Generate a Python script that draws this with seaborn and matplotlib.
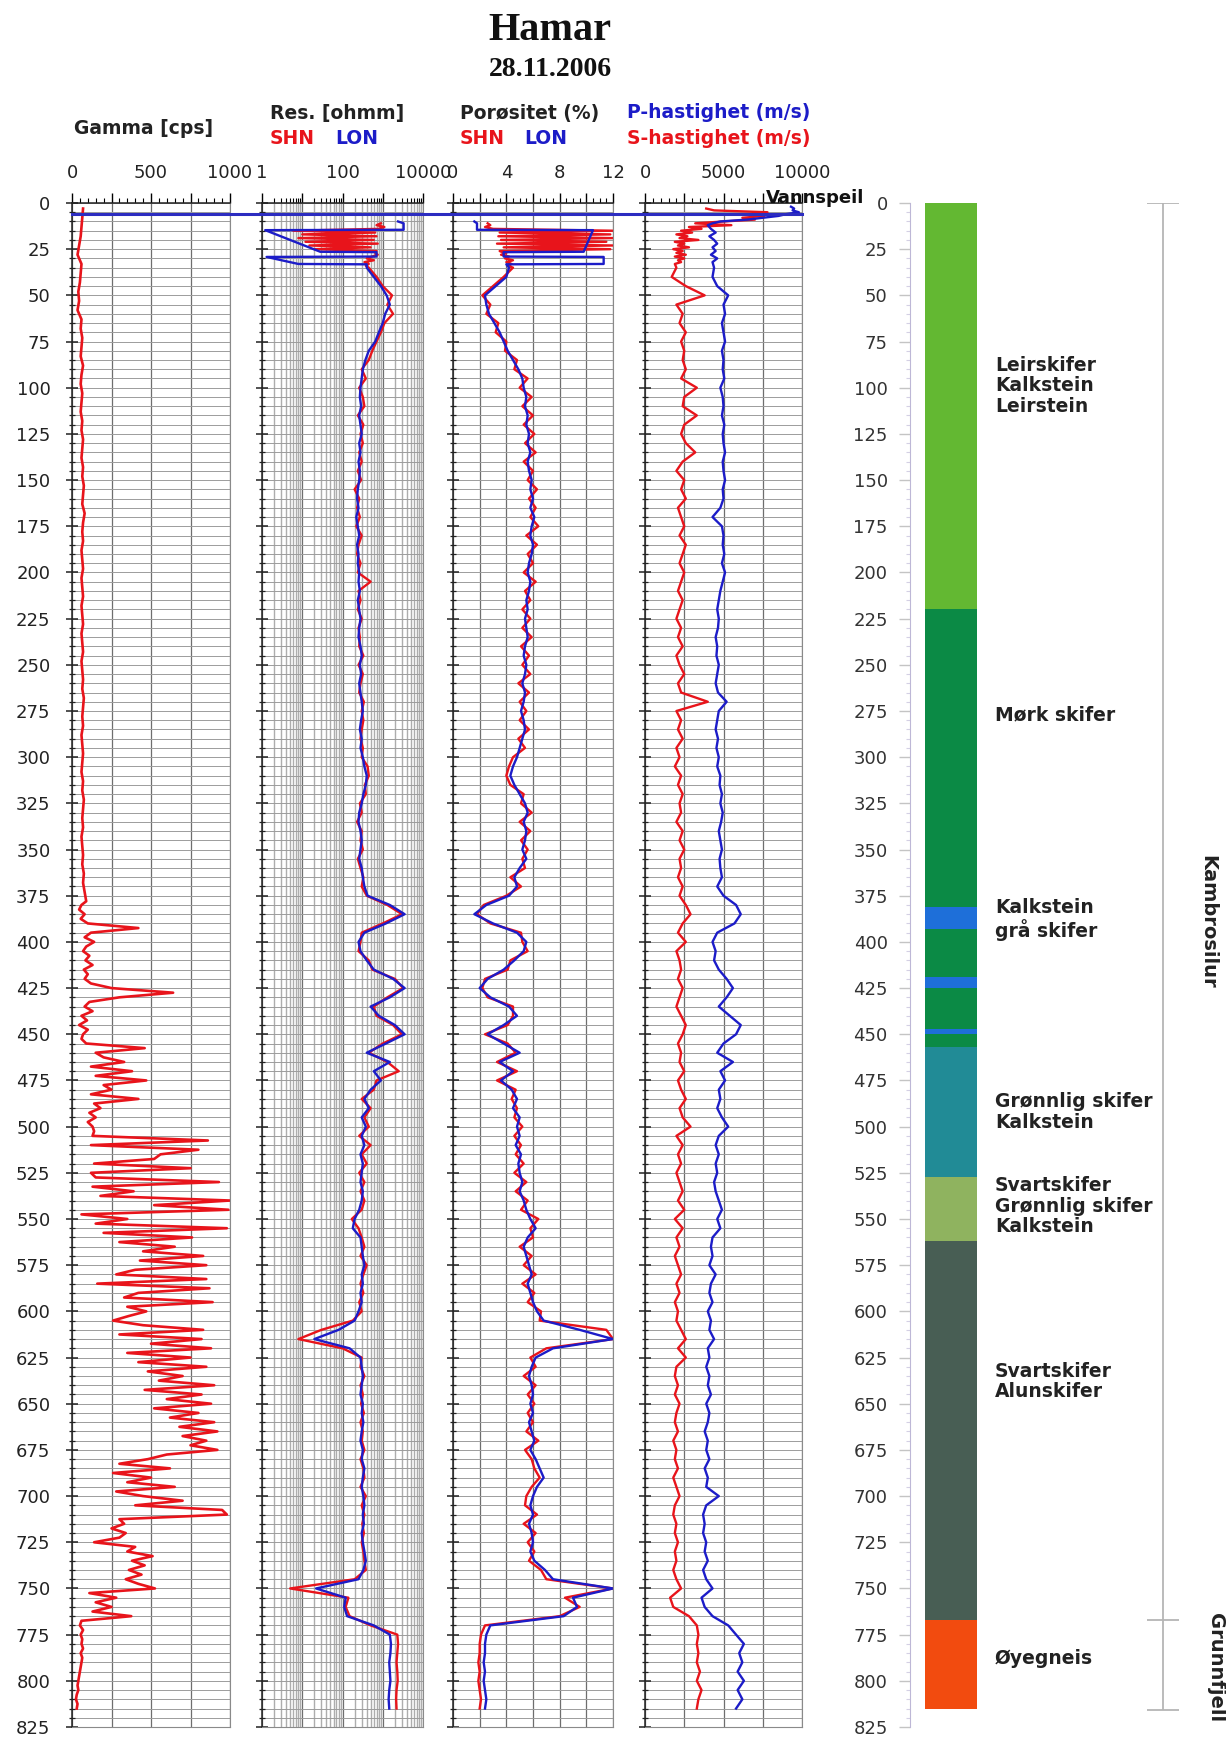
import numpy as np
import matplotlib.pyplot as plt
import matplotlib.transforms as mtransforms
from matplotlib.lines import Line2D
from matplotlib.ticker import MultipleLocator, FixedLocator, FixedFormatter, NullFormatter
import seaborn as sns

RED = '#e8141b'
BLUE = '#1c1cc8'

# ---------------- data ----------------
# gamma log (cps): 5 m steps down to 378 m, then 2.5 m steps
gamma_depth = np.concatenate([np.arange(3, 380, 5), np.arange(380, 815.1, 2.5)])
gamma = [
    70, 65, 60, 55, 45, 35, 60, 55, 50, 40,
    45, 35, 60, 55, 65, 60, 55, 70, 60, 55,
    65, 60, 55, 65, 60, 70, 65, 60, 70, 65,
    75, 70, 65, 80, 70, 65, 70, 60, 65, 70,
    60, 65, 70, 60, 65, 70, 60, 65, 70, 60,
    65, 70, 65, 75, 70, 65, 70, 60, 65, 70,
    65, 60, 70, 65, 75, 70, 65, 70, 60, 65,
    70, 65, 75, 70, 80, 90,
    # 380 m ->
    60, 45, 80, 55, 100, 420, 120, 80, 140, 90,
    70, 110, 85, 130, 75, 100, 80, 120, 250, 640,
    300, 110, 80, 130, 60, 95, 45, 100, 70, 60,
    90, 460, 150, 200, 330, 120, 380, 150, 470, 200,
    250, 120, 420, 140, 180, 110, 150, 100, 130, 140,
    130, 860, 120, 800, 560, 520, 140, 750, 120, 150,
    930, 130, 390, 180, 1000, 520, 990, 60, 350, 150,
    980, 200, 760, 300, 650, 450, 830, 430, 850, 400,
    280, 850, 160, 870, 420, 330, 890, 350, 470, 360,
    260, 450, 830, 300, 820, 500, 880, 350, 750, 420,
    850, 480, 700, 550, 900, 460, 820, 600, 880, 520,
    800, 620, 900, 680, 920, 700, 850, 750, 920, 600,
    480, 300, 620, 260, 500, 350, 650, 280, 450, 700,
    400, 950, 980, 300, 330, 250, 340, 300, 140, 400,
    350, 510, 380, 460, 360, 440, 340, 420, 525, 110,
    280, 150, 250, 130, 375, 60, 50, 70, 55, 65,
    60, 70, 55, 65, 60, 55, 50, 45, 40, 35,
    40, 30, 25, 35, 30,
]

# common 5 m grid below the disturbed top section
depth5 = np.arange(35, 816, 5)

# resistivity (ohmm)
res_lon_top_depth = [10, 11, 14.5, 14.7, 26.4, 26.6, 29.0, 29.2, 33.0, 33.2]
res_lon_top = [2400, 3300, 3300, 1.2, 28, 700, 700, 1.3, 8, 400]
res_shn_top_depth = [11, 12, 13, 14, 15, 16, 17, 18, 19, 20, 21, 22,
                     23, 24, 25, 26, 27, 28, 29, 30, 31, 32, 33, 34]
res_shn_top = [900, 700, 1100, 800, 6, 650, 10, 700, 8, 600, 12, 750,
               15, 500, 20, 700, 650, 750, 550, 400, 600, 350, 450, 380]
res_lon = [
    400, 600, 900, 1250, 1500, 1150, 1000, 800, 650, 450,
    370, 320, 300, 280, 270, 290, 260, 280, 300, 260,
    280, 250, 270, 260, 240, 230, 250, 220, 240, 260,
    230, 250, 240, 260, 250, 270, 240, 260, 280, 260,
    250, 280, 300, 270, 290, 260, 280, 300, 320, 290,
    270, 300, 280, 320, 350, 400, 380, 330, 300, 260,
    250, 280, 300, 280, 260, 300, 320, 350, 420, 1500,
    3500, 1200, 350, 250, 280, 400, 600, 1800, 3500, 1500,
    500, 800, 2000, 3500, 1200, 400, 1500, 600, 900, 500,
    350, 450, 300, 380, 300, 350, 280, 320, 300, 280,
    320, 300, 260, 200, 180, 280, 300, 320, 350, 300,
    320, 280, 300, 250, 200, 80, 20, 150, 280, 300,
    320, 300, 280, 320, 300, 330, 300, 280, 320, 300,
    350, 320, 300, 330, 350, 320, 340, 300, 320, 350,
    380, 330, 250, 22, 120, 110, 130, 600, 1500, 1600,
    1550, 1450, 1500, 1550, 1450, 1400, 1450,
]
res_shn = [
    450, 700, 1000, 1700, 1300, 1800, 1100, 900, 700, 550,
    450, 300, 380, 260, 320, 350, 240, 330, 280, 320,
    260, 300, 240, 290, 200, 260, 230, 270, 220, 300,
    250, 230, 280, 240, 500, 250, 280, 240, 300, 250,
    270, 260, 330, 250, 320, 280, 260, 340, 300, 330,
    300, 280, 320, 300, 420, 450, 360, 380, 270, 300,
    230, 300, 280, 320, 240, 280, 330, 300, 400, 1300,
    3000, 1000, 300, 280, 250, 450, 550, 2000, 3200, 1300,
    600, 700, 1800, 3000, 1000, 450, 1300, 2500, 700, 600,
    300, 500, 350, 450, 260, 500, 300, 400, 260, 350,
    280, 350, 300, 170, 250, 300, 350, 280, 400, 330,
    280, 330, 260, 300, 180, 30, 8, 100, 300, 280,
    350, 280, 320, 290, 340, 280, 320, 300, 350, 280,
    330, 350, 280, 380, 300, 350, 310, 340, 300, 330,
    350, 380, 200, 5, 140, 120, 150, 500, 2300, 2400,
    2300, 2200, 2300, 2350, 2200, 2150, 2200,
]

# porosity (%)
por_lon_top_depth = [10, 11, 14.5, 14.7, 26.4, 26.6, 29.0, 29.2, 33.0, 33.2]
por_lon_top = [1.6, 1.8, 1.8, 10.5, 9.8, 3.8, 3.8, 11.3, 11.3, 4.0]
por_shn_top_depth = res_shn_top_depth
por_shn_top = [2.6, 2.8, 2.4, 3.0, 12.0, 3.5, 11.8, 3.4, 12.0, 3.6, 11.5, 3.3,
               12.0, 3.8, 11.8, 3.5, 4.0, 3.6, 4.2, 3.9, 4.5, 4.0, 4.4, 4.1]
por_lon = [
    4.2, 4.0, 3.2, 2.4, 2.5, 2.7, 3.1, 3.5, 3.8, 4.1,
    4.5, 4.9, 5.2, 5.3, 5.5, 5.4, 5.6, 5.5, 5.7, 5.6,
    5.8, 5.6, 5.7, 5.9, 5.8, 6.0, 5.8, 6.1, 5.9, 5.8,
    6.0, 5.9, 5.7, 5.6, 5.8, 5.7, 5.5, 5.6, 5.4, 5.5,
    5.6, 5.4, 5.3, 5.5, 5.4, 5.2, 5.4, 5.3, 5.1, 5.3,
    5.4, 5.2, 5.0, 4.8, 4.5, 4.3, 4.6, 5.0, 5.4, 5.6,
    5.3, 5.5, 5.4, 5.2, 5.5, 5.0, 4.6, 4.8, 4.2, 2.5,
    1.6, 3.0, 4.8, 5.5, 5.3, 4.6, 3.8, 2.6, 2.0, 2.8,
    4.2, 4.8, 3.8, 2.6, 3.8, 5.0, 3.5, 4.5, 3.6, 4.4,
    4.8, 4.5, 5.0, 4.8, 5.0, 4.7, 5.1, 4.9, 5.0, 5.2,
    5.0, 5.3, 5.5, 5.8, 6.2, 5.6, 5.3, 5.5, 5.7, 5.9,
    5.6, 5.8, 6.0, 6.3, 6.8, 9.5, 12.0, 7.5, 6.2, 5.9,
    5.7, 5.9, 6.0, 5.8, 6.0, 5.7, 5.9, 6.1, 5.8, 6.2,
    6.5, 6.8, 6.3, 6.0, 5.8, 6.0, 5.7, 5.9, 6.0, 5.8,
    6.1, 6.9, 7.5, 12.0, 9.0, 9.3, 8.3, 2.8, 2.5, 2.4,
    2.4, 2.3, 2.4, 2.3, 2.4, 2.5, 2.4,
]
por_shn = [
    4.5, 3.8, 3.0, 2.2, 2.8, 2.5, 3.4, 3.2, 4.0, 3.9,
    4.8, 4.6, 5.6, 5.0, 5.9, 5.2, 6.0, 5.3, 6.1, 5.4,
    6.2, 5.3, 6.0, 5.6, 6.3, 5.7, 6.2, 5.8, 6.4, 5.5,
    6.3, 5.6, 6.0, 5.3, 6.2, 5.4, 5.8, 5.2, 5.8, 5.2,
    5.9, 5.1, 5.7, 5.2, 5.8, 4.9, 5.7, 5.0, 5.5, 5.0,
    5.7, 4.9, 5.4, 4.5, 4.2, 4.0, 4.3, 5.3, 5.1, 5.9,
    5.0, 5.8, 5.1, 5.6, 5.2, 5.4, 4.3, 5.1, 4.0, 2.3,
    1.8, 2.8, 5.1, 5.2, 5.6, 4.3, 4.1, 2.4, 2.2, 2.6,
    4.5, 4.5, 4.1, 2.4, 4.1, 4.7, 3.3, 4.8, 3.3, 4.7,
    4.4, 4.8, 4.6, 5.2, 4.6, 5.1, 4.7, 5.3, 4.6, 5.5,
    4.7, 5.6, 5.1, 6.4, 5.8, 6.0, 5.0, 5.9, 5.3, 6.2,
    5.2, 6.1, 5.6, 6.6, 6.5, 11.5, 12.0, 7.0, 5.8, 6.2,
    5.3, 6.2, 5.6, 6.1, 5.6, 6.0, 5.5, 6.4, 5.4, 5.9,
    6.1, 6.5, 5.9, 5.5, 5.4, 6.3, 5.3, 6.2, 5.6, 6.1,
    5.7, 6.6, 7.0, 12.0, 8.4, 9.5, 8.0, 2.4, 2.1, 2.0,
    2.0, 1.9, 2.0, 1.9, 2.0, 2.1, 2.0,
]

# seismic velocities (m/s)
vp_top_depth = [2, 3, 4, 5, 6, 7, 8, 9, 10, 11, 12, 14, 16, 18, 20, 22, 24, 26, 28, 30, 32]
vp_top = [9300, 9500, 9400, 9800, 9000, 8500, 7500, 6500, 4800, 4300, 4000,
          4200, 4500, 4100, 4400, 4600, 4300, 4500, 4200, 4600, 4300]
vs_top_depth = [3, 4, 5, 6, 7, 8, 9, 10, 11, 12, 13, 14, 15, 16, 17, 18,
                19, 20, 21, 22, 23, 24, 25, 26, 27, 28, 29, 30, 31, 32, 33]
vs_top = [3900, 4400, 7800, 6800, 7600, 6200, 7000, 5000, 3200, 5500, 2800, 3600,
          2300, 3000, 2000, 2700, 2200, 3400, 1900, 2500, 2100, 2800, 1800, 2400,
          2000, 2600, 1900, 2500, 2100, 2300, 1900]
vp = [
    4400, 4300, 4600, 5300, 5000, 5100, 4900, 5000, 5100, 4900,
    5000, 4950, 5050, 4800, 4950, 5000, 4900, 5050, 4950, 5000,
    5100, 4950, 5000, 5100, 4950, 5000, 4800, 4300, 4900, 5000,
    4950, 5050, 4900, 5100, 4950, 4800, 4700, 4600, 4700, 4650,
    4500, 4600, 4550, 4700, 4600, 4500, 4650, 5200, 4700, 4600,
    4500, 4650, 4550, 4700, 4600, 4800, 4750, 4900, 4800, 4950,
    4850, 4700, 4800, 4900, 4750, 4800, 4900, 4600, 5000, 5800,
    6100, 5700, 4600, 4300, 4500, 4400, 4700, 5200, 5600, 5200,
    4700, 5400, 6100, 5800, 5000, 4600, 5600, 4800, 5100, 4700,
    4800, 4600, 4900, 5300, 4700, 4500, 4700, 4500, 4600, 4400,
    4500, 4700, 4900, 4600, 4800, 4300, 4200, 4300, 4100, 4500,
    4200, 4100, 4300, 4000, 4200, 4100, 4400, 4000, 4100, 3900,
    4100, 4000, 4200, 3900, 4100, 4000, 3800, 4000, 3900, 4100,
    3800, 4000, 3900, 4700, 3900, 3700, 3800, 3700, 3900, 3800,
    4000, 3700, 3900, 4300, 3600, 3800, 4300, 5300, 5800, 6300,
    6000, 6200, 5900, 6300, 5900, 6200, 5800,
]
vs = [
    2000, 1700, 2600, 3800, 2000, 2400, 2200, 2600, 2300, 2500,
    2400, 2600, 2300, 3300, 2500, 2400, 3300, 2500, 2300, 2600,
    3200, 2400, 2000, 2500, 2300, 2600, 2100, 2300, 2500, 2200,
    2600, 2400, 2200, 2500, 2300, 2100, 2400, 2200, 2000, 2300,
    2100, 2400, 2000, 2200, 2500, 2100, 2300, 4000, 2000, 2300,
    2100, 2400, 2000, 2200, 1900, 2300, 2100, 2400, 2200, 2300,
    2000, 2400, 2200, 2500, 2200, 2300, 2100, 2400, 2200, 2600,
    2900, 2400, 2100, 2600, 2000, 2200, 2300, 2100, 2400, 2200,
    2000, 2300, 2600, 2400, 2100, 2300, 2200, 2500, 2100, 2300,
    2600, 2200, 2400, 2900, 2000, 2400, 2100, 2300, 2000, 2200,
    2400, 2100, 2500, 1900, 2400, 2000, 2200, 1900, 2100, 2300,
    2000, 2200, 1900, 2100, 2000, 2300, 2600, 2100, 2600, 2000,
    1900, 2100, 1900, 2200, 2000, 1900, 2100, 1800, 2000, 1900,
    2100, 1800, 2000, 2200, 1900, 1800, 2000, 1900, 2100, 1900,
    2000, 1800, 2000, 2300, 1600, 1800, 2800, 3300, 3400, 3300,
    3400, 3300, 3500, 3300, 3600, 3400, 3300,
]

water_level = 6

# lithology column
lith_top = [0, 220, 381, 393, 419, 425, 447, 450, 457, 527, 562, 767]
lith_base = [220, 381, 393, 419, 425, 447, 450, 457, 527, 562, 767, 815]
lith_color = ['#63b832', '#0b8a45', '#1e6fd9', '#0b8a45', '#1e6fd9', '#0b8a45',
              '#1e6fd9', '#0b8a45', '#218b96', '#8fb35f', '#485e54', '#f24b0f']
lith_text = ['Leirskifer\nKalkstein\nLeirstein', 'Mørk skifer', 'Kalkstein\ngrå skifer',
             'Grønnlig skifer\nKalkstein', 'Svartskifer\nGrønnlig skifer\nKalkstein',
             'Svartskifer\nAlunskifer', 'Øyegneis']
lith_text_depth = [99, 277, 388, 492, 543, 638, 788]
unit_bounds = [0, 767, 816]
unit_names = ['Kambrosilur', 'Grunnfjell']
unit_name_depth = [389, 793]

# ---------------- figure ----------------
fig = plt.figure(figsize=(12.26, 17.42), dpi=100)
W, H = 1226, 1742
bottom = 1 - 1727 / H
height = 1524 / H


def panel(x0, x1):
    return fig.add_axes([x0 / W, bottom, (x1 - x0) / W, height])


ax_g = panel(72, 230)
ax_r = panel(262, 423)
ax_p = panel(453, 613)
ax_v = panel(645, 802)
ax_l = panel(910, 1226)


def curve(ax, x, y, color, lw=1.7):
    sns.lineplot(x=np.asarray(x, float), y=np.asarray(y, float), ax=ax, color=color,
                 lw=lw, sort=False, estimator=None, orient='y')


curve(ax_g, gamma, gamma_depth, RED, 1.9)
curve(ax_r, res_shn_top + res_shn, np.concatenate([res_shn_top_depth, depth5]), RED)
curve(ax_r, res_lon_top + res_lon, np.concatenate([res_lon_top_depth, depth5]), BLUE)
curve(ax_p, por_shn_top + por_shn, np.concatenate([por_shn_top_depth, depth5]), RED)
curve(ax_p, por_lon_top + por_lon, np.concatenate([por_lon_top_depth, depth5]), BLUE)
curve(ax_v, vs_top + vs, np.concatenate([vs_top_depth, depth5]), RED)
curve(ax_v, vp_top + vp, np.concatenate([vp_top_depth, depth5]), BLUE)


def style(ax, ticks, labels, minor, depth_labels=False):
    ax.set_ylim(825, 0)
    ax.set_xlabel('')
    ax.set_ylabel('')
    ax.xaxis.tick_top()
    ax.xaxis.set_major_locator(FixedLocator(ticks))
    ax.xaxis.set_major_formatter(FixedFormatter(labels))
    ax.xaxis.set_minor_locator(minor)
    ax.xaxis.set_minor_formatter(NullFormatter())
    ax.yaxis.set_major_locator(MultipleLocator(25))
    ax.yaxis.set_minor_locator(MultipleLocator(5))
    ax.grid(True, which='both', axis='y', color='#9c9c9c', lw=0.7)
    ax.grid(True, which='major', axis='x', color='#6e6e6e', lw=0.9)
    ax.set_axisbelow(True)
    ax.tick_params(axis='y', which='major', direction='inout', length=9, width=1.1,
                   color='#222', labelsize=13, pad=11, labelleft=depth_labels, labelcolor='#222')
    ax.tick_params(axis='y', which='minor', direction='inout', length=5, width=0.9, color='#222')
    ax.tick_params(axis='x', which='major', direction='out', length=7, width=1.0,
                   labelsize=13, pad=8, labelcolor='#222')
    ax.tick_params(axis='x', which='minor', direction='out', length=3.5, width=0.8)
    for s in ['left', 'top']:
        ax.spines[s].set_color('#222')
        ax.spines[s].set_linewidth(1.1)
    for s in ['right', 'bottom']:
        ax.spines[s].set_color('#8a8a8a')
        ax.spines[s].set_linewidth(0.8)


ax_g.set_xlim(0, 1000)
style(ax_g, [0, 250, 500, 750, 1000], ['0', '', '500', '', '1000'], MultipleLocator(50), True)

ax_r.set_xscale('log')
ax_r.set_xlim(1, 10000)
res_minor = [m * 10 ** e for e in range(4) for m in range(2, 10)]
style(ax_r, [1, 10, 100, 1000, 10000], ['1', '', '100', '', '10000'], FixedLocator(res_minor))
ax_r.grid(True, which='minor', axis='x', color='#adadad', lw=1.0)

ax_p.set_xlim(0, 12)
style(ax_p, [0, 2, 4, 6, 8, 10, 12], ['0', '', '4', '', '8', '', '12'], MultipleLocator(0.5))

ax_v.set_xlim(0, 10000)
style(ax_v, [0, 2500, 5000, 7500, 10000], ['0', '', '5000', '', '10000'], MultipleLocator(500))

# water table line across all log panels
tr = mtransforms.blended_transform_factory(fig.transFigure, ax_g.transData)
fig.add_artist(Line2D([ax_g.get_position().x0, ax_v.get_position().x1],
                      [water_level, water_level], transform=tr, color='#2c2cc0', lw=2.2))
fig.text(766 / W, 1 - 198 / H, 'Vannspeil', fontsize=13, fontweight='bold', va='center', color='#111')

# lithology column
ax_l.set_xlim(0, 1)
ax_l.set_ylim(825, 0)
ax_l.bar(x=0.13, width=0.165, bottom=lith_top,
         height=np.subtract(lith_base, lith_top), color=lith_color, align='center')
for txt, d in zip(lith_text, lith_text_depth):
    ax_l.text(0.269, d, txt, ha='left', va='center', fontsize=13.5,
              fontweight='bold', color='#222', linespacing=1.1)
ax_l.vlines(0.80, unit_bounds[0], unit_bounds[-1], color='#b5b5b5', lw=1.3)
ax_l.hlines(unit_bounds, 0.75, 0.85, color='#b5b5b5', lw=1.3)
ax_l.text(0.943, unit_name_depth[0], unit_names[0], rotation=270, ha='center', va='center',
          fontsize=14, fontweight='bold', color='#222')
ax_l.text(0.968, unit_name_depth[1], unit_names[1], rotation=270, ha='center', va='center',
          fontsize=14, fontweight='bold', color='#222')
ax_l.yaxis.set_major_locator(MultipleLocator(25))
ax_l.yaxis.set_minor_locator(MultipleLocator(5))
ax_l.set_xticks([])
ax_l.tick_params(axis='y', which='major', direction='out', length=8, width=1,
                 color='#c4c4c4', labelsize=13, labelcolor='#333', pad=8)
ax_l.tick_params(axis='y', which='minor', direction='out', length=3, width=0.8, color='#d4d0e4')
for s in ['top', 'right', 'bottom']:
    ax_l.spines[s].set_visible(False)
ax_l.spines['left'].set_color('#bdb7d6')

# titles and headers
fig.text(550 / W, 1 - 30 / H, 'Hamar', family='Liberation Serif', fontweight='bold',
         fontsize=29, ha='center', va='center', color='#111')
fig.text(550 / W, 1 - 69 / H, '28.11.2006', family='Liberation Serif', fontweight='bold',
         fontsize=20, ha='center', va='center', color='#111')

hdr = dict(fontsize=13.5, fontweight='bold', va='center')
fig.text(144 / W, 1 - 128 / H, 'Gamma [cps]', ha='center', color='#222', **hdr)
fig.text(270 / W, 1 - 113 / H, 'Res. [ohmm]', ha='left', color='#222', **hdr)
fig.text(270 / W, 1 - 138 / H, 'SHN', ha='left', color=RED, **hdr)
fig.text(335 / W, 1 - 138 / H, 'LON', ha='left', color=BLUE, **hdr)
fig.text(460 / W, 1 - 113 / H, 'Porøsitet (%)', ha='left', color='#222', **hdr)
fig.text(460 / W, 1 - 138 / H, 'SHN', ha='left', color=RED, **hdr)
fig.text(524 / W, 1 - 138 / H, 'LON', ha='left', color=BLUE, **hdr)
fig.text(627 / W, 1 - 113 / H, 'P-hastighet (m/s)', ha='left', color=BLUE, **hdr)
fig.text(627 / W, 1 - 138 / H, 'S-hastighet (m/s)', ha='left', color=RED, **hdr)

fig.savefig('out.png', dpi=100, facecolor='white')
